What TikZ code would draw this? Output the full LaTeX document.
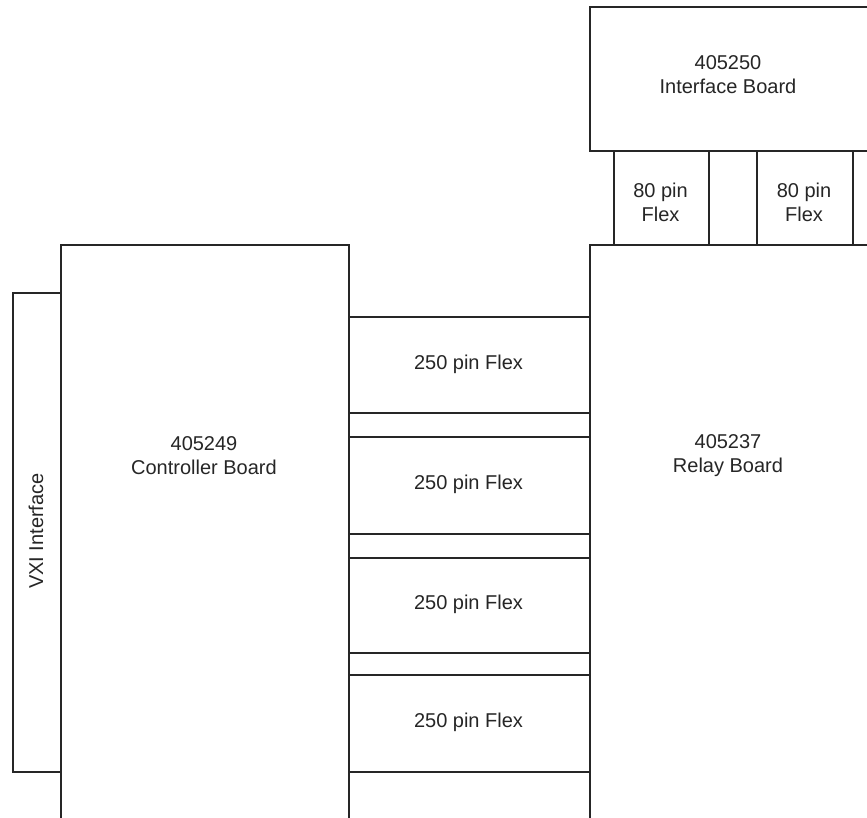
\documentclass[tikz,border=0pt]{standalone}
\usepackage{fontspec}
\setmainfont{Liberation Sans}
\begin{document}
\begin{tikzpicture}[x=1pt,y=-1pt,
  board/.style={draw=black!85,line width=1.6pt,fill=white,inner sep=0pt},
  lbl/.style={font=\fontsize{20}{24}\selectfont,text=black!85,align=center,inner sep=0pt}]
\useasboundingbox (0,0) rectangle (867,818);
\clip (0,0) rectangle (867,818);
% boards
\node[board,minimum width=310pt,minimum height=144pt,anchor=north west] (ifb) at (589,6) {};
\node[board,minimum width=95pt,minimum height=94pt,anchor=north west] (f80a) at (613,150) {};
\node[board,minimum width=96pt,minimum height=94pt,anchor=north west] (f80b) at (756,150) {};
\node[board,minimum width=48pt,minimum height=479pt,anchor=north west] (vxi) at (12,292) {};
\node[board,minimum width=288pt,minimum height=600pt,anchor=north west] (ctrl) at (60,244) {};
\node[board,minimum width=310pt,minimum height=600pt,anchor=north west] (relay) at (589,244) {};
\node[board,minimum width=241pt,minimum height=96pt,anchor=north west] (f1) at (348,316) {};
\node[board,minimum width=241pt,minimum height=97pt,anchor=north west] (f2) at (348,436) {};
\node[board,minimum width=241pt,minimum height=95pt,anchor=north west] (f3) at (348,557) {};
\node[board,minimum width=241pt,minimum height=97pt,anchor=north west] (f4) at (348,674) {};
% labels
\node[lbl] (tifb) at (728,75) {405250\\Interface Board};
\node[lbl] (ta) at (660.5,202) {80 pin\\Flex};
\node[lbl] (tb) at (804,202) {80 pin\\Flex};
\node[lbl] (tctrl) at (204,456) {405249\\Controller Board};
\node[lbl] (trelay) at (728,456) {405237\\Relay Board};
\node[lbl,rotate=90] (tvxi) at (36,531) {VXI Interface};
\node[lbl] (t1) at (468.5,364) {250 pin Flex};
\node[lbl] (t2) at (468.5,484.5) {250 pin Flex};
\node[lbl] (t3) at (468.5,604.5) {250 pin Flex};
\node[lbl] (t4) at (468.5,722.5) {250 pin Flex};
\end{tikzpicture}
\end{document}
